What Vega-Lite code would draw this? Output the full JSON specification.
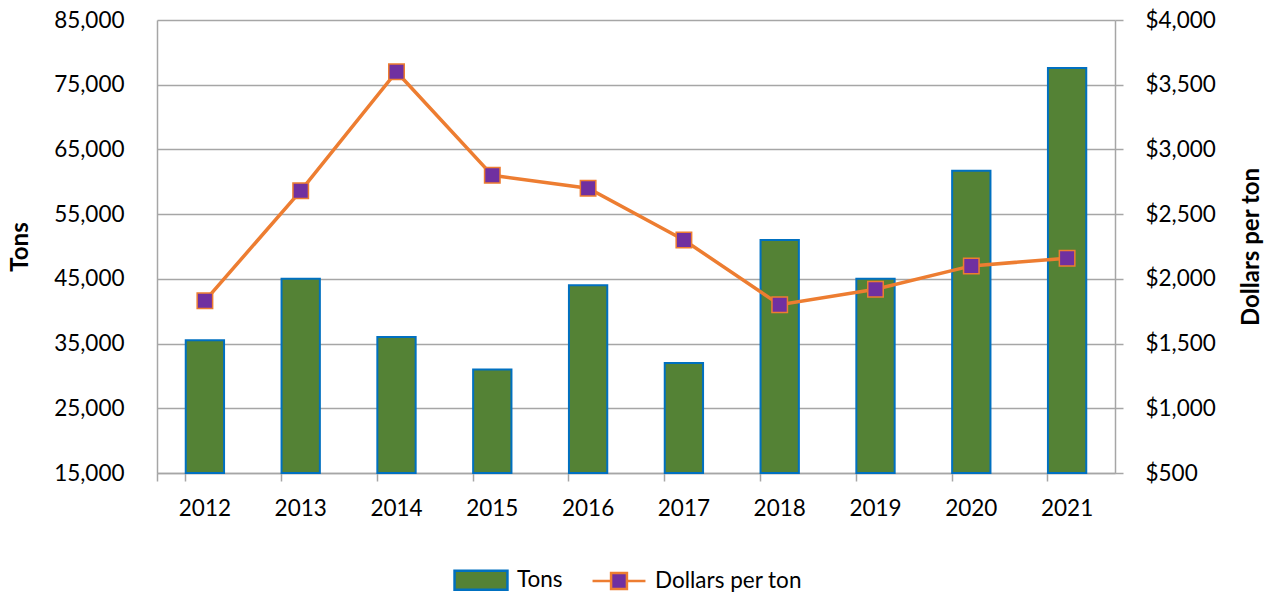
{
  "$schema": "https://vega.github.io/schema/vega-lite/v6.json",
  "width": 958,
  "height": 453,
  "autosize": {"type": "none"},
  "padding": {"left": 157, "top": 20, "right": 157, "bottom": 121},
  "background": "white",
  "config": {
    "view": {"stroke": null},
    "font": "Lato",
    "axis": {
      "labelFont": "Lato",
      "labelFontSize": 22.5,
      "labelColor": "#000000",
      "titleFont": "Lato",
      "titleFontSize": 24,
      "titleFontWeight": "bold",
      "titleColor": "#000000",
      "domainColor": "#a6a6a6",
      "tickColor": "#a6a6a6",
      "gridColor": "#a6a6a6",
      "domainWidth": 1.5,
      "tickWidth": 1.5,
      "gridWidth": 1.5
    },
    "legend": {
      "labelFont": "Lato",
      "labelFontSize": 22.5,
      "labelColor": "#000000"
    }
  },
  "data": {
    "values": [
      {"year": "2012", "tons": 35500, "dollars": 1830},
      {"year": "2013", "tons": 45000, "dollars": 2680},
      {"year": "2014", "tons": 36000, "dollars": 3600},
      {"year": "2015", "tons": 31000, "dollars": 2800},
      {"year": "2016", "tons": 44000, "dollars": 2700},
      {"year": "2017", "tons": 32000, "dollars": 2300},
      {"year": "2018", "tons": 51000, "dollars": 1800},
      {"year": "2019", "tons": 45000, "dollars": 1920},
      {"year": "2020", "tons": 61700, "dollars": 2100},
      {"year": "2021", "tons": 77600, "dollars": 2160}
    ]
  },
  "encoding": {
    "x": {
      "field": "year",
      "type": "nominal",
      "scale": {"paddingInner": 0.6, "paddingOuter": 0.3},
      "axis": {
        "title": null,
        "labelAngle": 0,
        "bandPosition": 0,
        "tickExtra": true,
        "tickSize": 8,
        "labelPadding": 16,
        "grid": false
      }
    }
  },
  "layer": [
    {
      "mark": {"type": "bar", "fill": "#548235", "stroke": "#0070C0", "strokeWidth": 2},
      "encoding": {
        "y": {
          "field": "tons",
          "type": "quantitative",
          "scale": {"domain": [15000, 85000], "zero": false, "nice": false},
          "axis": {
            "title": "Tons",
            "values": [15000, 25000, 35000, 45000, 55000, 65000, 75000, 85000],
            "format": ",.0f",
            "tickSize": 0,
            "labelPadding": 33,
            "titlePadding": 21,
            "grid": true
          }
        },
        "y2": {"datum": 15000}
      }
    },
    {
      "layer": [
        {
          "mark": {"type": "line", "stroke": "#ED7D31", "strokeWidth": 3.5},
          "encoding": {
            "y": {
              "field": "dollars",
              "type": "quantitative",
              "scale": {"domain": [500, 4000], "zero": false, "nice": false},
              "axis": {
                "orient": "right",
                "title": "Dollars per ton",
                "titleAngle": 270,
                "values": [500, 1000, 1500, 2000, 2500, 3000, 3500, 4000],
                "format": "$,.0f",
                "tickSize": 8,
                "labelPadding": 22,
                "titlePadding": 48,
                "grid": false
              }
            }
          }
        },
        {
          "mark": {"type": "point", "shape": "square", "filled": true, "size": 240, "fill": "#7030A0", "stroke": "#ED7D31", "strokeWidth": 1.5, "opacity": 1},
          "encoding": {
            "y": {"field": "dollars", "type": "quantitative"}
          }
        }
      ]
    },
    {
      "data": {"values": []},
      "mark": {"type": "point", "filled": true, "opacity": 1, "strokeWidth": 2.5},
      "encoding": {
        "x": {"field": "year", "type": "nominal"},
        "fill": {
          "field": "series",
          "type": "nominal",
          "scale": {"domain": ["Tons", "Dollars per ton"], "range": ["#548235", "#7030A0"]},
          "legend": {
            "title": null,
            "orient": "none",
            "legendX": 296,
            "legendY": 532,
            "direction": "horizontal",
            "symbolSize": 2800,
            "symbolStrokeWidth": 2.5,
            "symbolOpacity": 1,
            "labelOffset": 8,
            "columnPadding": 24
          }
        },
        "stroke": {
          "field": "series",
          "type": "nominal",
          "scale": {"domain": ["Tons", "Dollars per ton"], "range": ["#0070C0", "#ED7D31"]},
          "legend": {
            "title": null,
            "orient": "none",
            "legendX": 296,
            "legendY": 532,
            "direction": "horizontal",
            "symbolSize": 2800,
            "symbolStrokeWidth": 2.5,
            "symbolOpacity": 1,
            "labelOffset": 8,
            "columnPadding": 24
          }
        },
        "shape": {
          "field": "series",
          "type": "nominal",
          "scale": {"domain": ["Tons", "Dollars per ton"], "range": ["M-1,-0.36H1V0.36H-1Z", "M-1,0H-0.3M0.3,0H1M-0.3,-0.3H0.3V0.3H-0.3Z"]},
          "legend": {
            "title": null,
            "orient": "none",
            "legendX": 296,
            "legendY": 532,
            "direction": "horizontal",
            "symbolSize": 2800,
            "symbolStrokeWidth": 2.5,
            "symbolOpacity": 1,
            "labelOffset": 8,
            "columnPadding": 24
          }
        }
      }
    }
  ],
  "resolve": {"scale": {"y": "independent"}}
}
